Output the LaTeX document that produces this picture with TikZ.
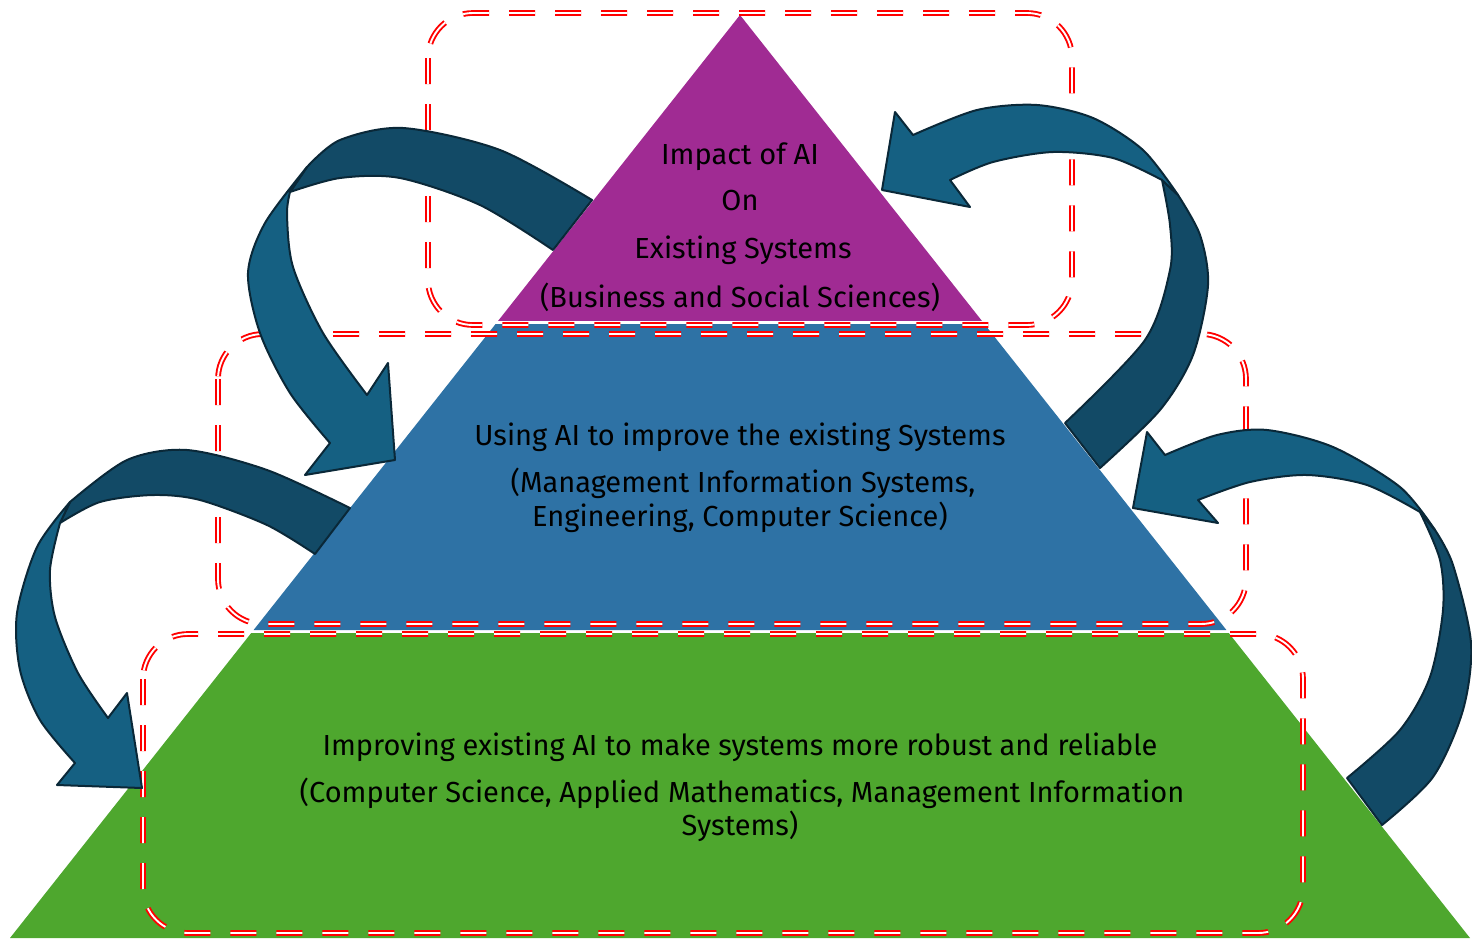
\documentclass[tikz,border=0pt]{standalone}
\usepackage{fontspec}
\setmainfont{Fira Sans}
\usetikzlibrary{calc}
\definecolor{tierpurple}{HTML}{A02B93}
\definecolor{tierblue}{HTML}{2E72A5}
\definecolor{tiergreen}{HTML}{4EA72E}
\definecolor{bandlight}{HTML}{156082}
\definecolor{banddark}{HTML}{124A66}
\definecolor{bandedge}{HTML}{0A2838}
\begin{document}
\begin{tikzpicture}[x=1pt,y=-1pt,
    tiertext/.style={anchor=base,inner sep=0pt,font=\fontsize{29}{34}\selectfont},
    scopebox/.style={draw=red,double=white,line width=1.9pt,double distance=1.9pt,
      dash pattern=on 26pt off 20pt,rounded corners=45pt},
    bandfront/.style={fill=bandlight,draw=bandedge,line width=2pt,line join=round},
    bandback/.style={fill=banddark,draw=bandedge,line width=2pt,line join=round}]
  \useasboundingbox (0,0) rectangle (1472,938);
  \coordinate (apex) at (740,15);
  \coordinate (baseL) at (10,938);
  \coordinate (baseR) at (1470,938);

  % the three tiers
  \fill[tierpurple] (apex) -- ($(apex)!0.3315!(baseL)$) -- ($(apex)!0.3315!(baseR)$) -- cycle;
  \fill[tierblue] ($(apex)!0.3348!(baseL)$) -- ($(apex)!0.6663!(baseL)$)
    -- ($(apex)!0.6663!(baseR)$) -- ($(apex)!0.3348!(baseR)$) -- cycle;
  \fill[tiergreen] ($(apex)!0.6696!(baseL)$) -- (baseL) -- (baseR) -- ($(apex)!0.6696!(baseR)$) -- cycle;

  % dashed frames
  \draw[scopebox] (428,13) rectangle (1072,325);
  \draw[scopebox] (218,334) rectangle (1246,624);
  \draw[scopebox] (143,634) rectangle (1303,933);

  % texts
  \path
    (740,164) node[tiertext] (impact) {Impact of AI}
    (740,210) node[tiertext] (on) {On}
    (743,258) node[tiertext] (existing) {Existing Systems}
    (740,307) node[tiertext] (business) {(Business and Social Sciences)}
    (740,445) node[tiertext] (using) {Using AI to improve the existing Systems}
    (743,492) node[tiertext] (mis) {(Management Information Systems,}
    (740,526) node[tiertext] (engineering) {Engineering, Computer Science)}
    (740,755) node[tiertext] (improving) {Improving existing AI to make systems more robust and reliable}
    (742,802) node[tiertext] (computer) {(Computer Science, Applied Mathematics, Management Information}
    (740,835) node[tiertext] (systems) {Systems)};

  % curved arrows: top left
  \draw[bandback] plot[smooth] coordinates {(592,200) (500,150) (403,128) (340,140) (307,167)}
    -- plot[smooth] coordinates {(290,192) (340,178) (400,178) (480,205) (553,250)} -- cycle;
  \draw[bandfront] plot[smooth] coordinates {(307,167) (265,223) (248,273) (260,333) (290,393) (330,443)}
    -- (305,475) -- (395,460) -- (388,363) -- (367,395)
    -- plot[smooth] coordinates {(367,395) (323,333) (293,267) (287,215) (290,192)} -- cycle;

  % top right
  \draw[bandback] plot[smooth] coordinates {(1100,468) (1160,410) (1193,355) (1208,285) (1200,235) (1178,195)}
    -- plot[smooth] coordinates {(1162,180) (1170,225) (1170,270) (1145,340) (1065,423)} -- cycle;
  \draw[bandfront] plot[smooth] coordinates {(1178,195) (1143,150) (1093,118) (1037,105) (977,110) (913,135)}
    -- (895,112) -- (882,190) -- (970,207) -- (950,180)
    -- plot[smooth] coordinates {(950,180) (993,162) (1053,152) (1113,158) (1162,180)} -- cycle;

  % bottom left
  \draw[bandback] plot[smooth] coordinates {(350,508) (267,470) (187,450) (127,460) (70,502)}
    -- plot[smooth] coordinates {(60,523) (100,502) (153,495) (200,500) (267,525) (315,554)} -- cycle;
  \draw[bandfront] plot[smooth] coordinates {(70,502) (37,547) (17,613) (20,670) (40,720) (75,763)}
    -- (57,785) -- (142,788) -- (127,693) -- (108,718)
    -- plot[smooth] coordinates {(108,718) (78,673) (55,617) (50,570) (60,523)} -- cycle;

  % bottom right
  \draw[bandback] plot[smooth] coordinates {(1382,825) (1433,777) (1463,710) (1471,643) (1453,565) (1435,530)}
    -- plot[smooth] coordinates {(1420,512) (1440,560) (1443,610) (1430,677) (1400,730) (1347,778)} -- cycle;
  \draw[bandfront] plot[smooth] coordinates {(1435,530) (1400,487) (1333,447) (1267,430) (1217,435) (1165,455)}
    -- (1147,432) -- (1133,508) -- (1218,523) -- (1198,500)
    -- plot[smooth] coordinates {(1198,500) (1250,482) (1307,475) (1367,485) (1420,512)} -- cycle;
\end{tikzpicture}
\end{document}
